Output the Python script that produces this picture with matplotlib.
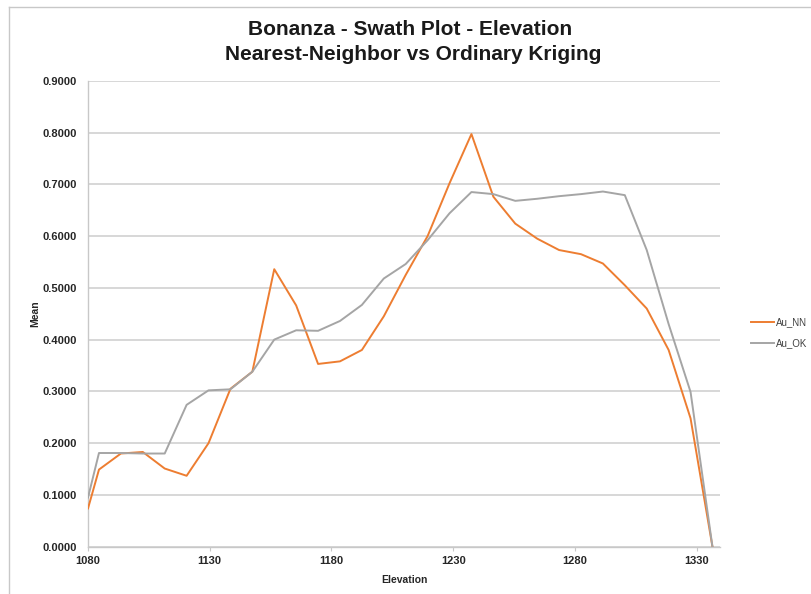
import matplotlib.pyplot as plt
from matplotlib.lines import Line2D

plt.rcParams['font.family'] = ['Liberation Sans', 'DejaVu Sans']

# swath centres (elevation) and mean grades per estimator
elevation = [1080, 1084.5, 1093.5, 1102.5, 1111.5, 1120.5, 1129.5, 1138.5,
             1147.5, 1156.5, 1165.5, 1174.5, 1183.5, 1192.5, 1201.5, 1210.5,
             1219.5, 1228.5, 1237.5, 1246.5, 1255.5, 1264.5, 1273.5, 1282.5,
             1291.5, 1300.5, 1309.5, 1318.5, 1327.5, 1336.5]
au_nn = [0.074, 0.149, 0.180, 0.183, 0.151, 0.137, 0.200, 0.305,
         0.338, 0.536, 0.466, 0.353, 0.358, 0.380, 0.445, 0.525,
         0.600, 0.702, 0.797, 0.676, 0.624, 0.595, 0.573, 0.565,
         0.547, 0.505, 0.460, 0.380, 0.248, 0.0]
au_ok = [0.095, 0.181, 0.181, 0.180, 0.180, 0.274, 0.302, 0.304,
         0.338, 0.400, 0.418, 0.417, 0.436, 0.467, 0.518, 0.546,
         0.592, 0.644, 0.685, 0.681, 0.668, 0.672, 0.677, 0.681,
         0.686, 0.679, 0.573, 0.430, 0.299, 0.0]

x_ticks = [1080, 1130, 1180, 1230, 1280, 1330]
y_ticks = [0.0, 0.1, 0.2, 0.3, 0.4, 0.5, 0.6, 0.7, 0.8, 0.9]

fig = plt.figure(figsize=(8.12, 5.94), dpi=100)
ax = fig.add_axes([0.1084, 0.0796, 0.7783, 0.7845])

ax.plot(elevation, au_nn, color='#ED7D31', lw=1.4, label='Au_NN', zorder=3)
ax.plot(elevation, au_ok, color='#A5A5A5', lw=1.4, label='Au_OK', zorder=3)

ax.set_xlim(1080, 1339.6)
ax.set_ylim(0, 0.9)
ax.set_xticks(x_ticks)
ax.set_yticks(y_ticks)
ax.set_yticklabels([f'{v:.4f}' for v in y_ticks])
ax.yaxis.grid(True, color='#D4D4D4', lw=1.3)
ax.set_axisbelow(True)

for side in ['top', 'right']:
    ax.spines[side].set_visible(False)
for side in ['left', 'bottom']:
    ax.spines[side].set_color('#C8C8C8')
    ax.spines[side].set_linewidth(1.0)
ax.tick_params(axis='y', length=0, pad=8, labelsize=8)
ax.tick_params(axis='x', length=3, color='#C8C8C8', pad=4, labelsize=8)
for lbl in ax.get_xticklabels() + ax.get_yticklabels():
    lbl.set_fontweight('bold')
    lbl.set_color('#262626')

ax.set_xlabel('Elevation', fontsize=7.5, fontweight='bold', labelpad=6, color='#262626')
ax.set_ylabel('Mean', fontsize=7.5, fontweight='bold', labelpad=2, color='#262626')

fig.text(0.505, 0.951, 'Bonanza - Swath Plot - Elevation', ha='center', va='center',
         fontsize=15, fontweight='bold', color='#1a1a1a')
fig.text(0.509, 0.908, 'Nearest-Neighbor vs Ordinary Kriging', ha='center', va='center',
         fontsize=15, fontweight='bold', color='#1a1a1a')

ax.legend(handles=[Line2D([], [], color='#ED7D31', lw=1.4),
                   Line2D([], [], color='#A5A5A5', lw=1.4)],
          labels=['Au_NN', 'Au_OK'], loc='center left',
          bbox_to_anchor=(1.035, 0.459), frameon=False, fontsize=7,
          handlelength=2.4, handletextpad=0.2, labelspacing=1.1,
          labelcolor='#404040')

# chart area border
fig.add_artist(Line2D([9 / 812, 9 / 812], [0, 1 - 7 / 594],
                      transform=fig.transFigure, color='#C8C8C8', lw=1))
fig.add_artist(Line2D([9 / 812, 1], [1 - 7 / 594, 1 - 7 / 594],
                      transform=fig.transFigure, color='#C8C8C8', lw=1))

fig.savefig('out.png', dpi=100)
